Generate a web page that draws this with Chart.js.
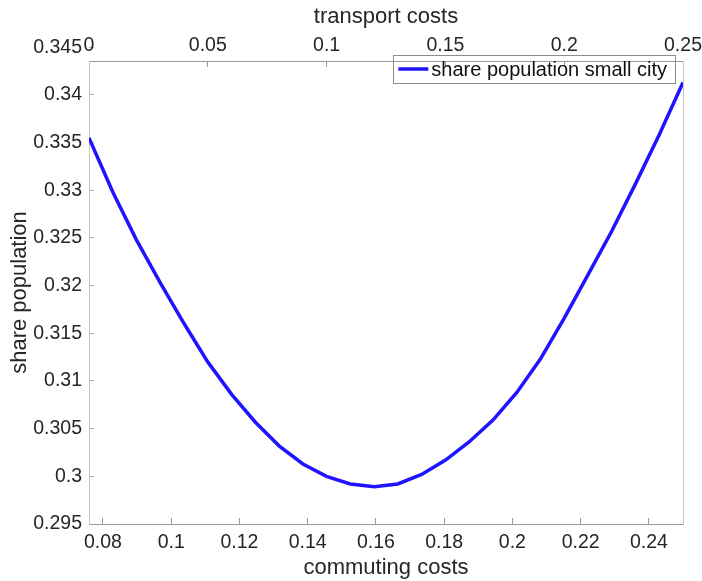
<!DOCTYPE html>
<html>
<head>
<meta charset="utf-8">
<script src="https://cdn.jsdelivr.net/npm/chart.js@4/dist/chart.umd.min.js"></script>
<style>
  html, body { margin: 0; padding: 0; background: #fff; }
  #wrap { width: 702px; height: 581px; }
</style>
</head>
<body>
<div id="wrap"><canvas id="myChart" width="702" height="581"></canvas></div>
<script>
// data
var commutingCosts = [0.0759, 0.0829, 0.0898, 0.0968, 0.1038, 0.1107, 0.1177, 0.1246, 0.1316, 0.1386,
                      0.1455, 0.1525, 0.1595, 0.1664, 0.1734, 0.1804, 0.1873, 0.1943, 0.2013, 0.2082,
                      0.2152, 0.2221, 0.2291, 0.2361, 0.2430, 0.2500];
var sharePopulation = [0.3355, 0.3298, 0.3248, 0.3203, 0.3160, 0.3120, 0.3086, 0.3057, 0.3032, 0.3013,
                       0.3000, 0.2992, 0.2989, 0.2992, 0.3002, 0.3017, 0.3036, 0.3059, 0.3088, 0.3123,
                       0.3166, 0.3211, 0.3257, 0.3307, 0.3358, 0.3413];
var xTicks = [0.08, 0.1, 0.12, 0.14, 0.16, 0.18, 0.2, 0.22, 0.24];
var x2Ticks = [0, 0.05, 0.1, 0.15, 0.2, 0.25];
var yTicks = [0.295, 0.3, 0.305, 0.31, 0.315, 0.32, 0.325, 0.33, 0.335, 0.34, 0.345];

var FONT = '"Liberation Sans", Arial, Helvetica, sans-serif';
var tickFont = { family: FONT, size: 19.5 };
var titleFont = { family: FONT, size: 22 };
var txt = '#262626';

function fmt(v) { return String(+Number(v).toFixed(3)); }
function setTicks(list) {
    return function (scale) { scale.ticks = list.map(function (v) { return { value: v }; }); };
}
function fixSize(w, h) {
    return function (scale) {
        if (w !== null) scale.width = w;
        if (h !== null) scale.height = h;
        scale.paddingLeft = 0; scale.paddingRight = 0;
        scale.paddingTop = 0; scale.paddingBottom = 0;
    };
}

var legendBox = {
    id: 'legendBox',
    afterDraw: function (chart) {
        var ds = chart.data.datasets[0];
        var ctx = chart.ctx;
        var a = chart.chartArea;
        ctx.save();
        ctx.font = '20px ' + FONT;
        var tw = ctx.measureText(ds.label).width;
        var w = tw + 46, h = 28;
        var left = a.right - 8 - w, top = a.top - 6;
        ctx.strokeStyle = '#8c8c8c';
        ctx.lineWidth = 1;
        ctx.strokeRect(Math.round(left) + 0.5, Math.round(top) + 0.5, Math.round(w), h);
        ctx.strokeStyle = ds.borderColor;
        ctx.lineWidth = ds.borderWidth;
        ctx.beginPath();
        ctx.moveTo(left + 5, top + 14);
        ctx.lineTo(left + 35, top + 14);
        ctx.stroke();
        ctx.fillStyle = '#111';
        ctx.textBaseline = 'middle';
        ctx.fillText(ds.label, left + 38, top + 15);
        ctx.restore();
    }
};

var ctx = document.getElementById('myChart').getContext('2d');
var myChart = new Chart(ctx, {
    type: 'line',
    data: {
        datasets: [{
            label: 'share population small city',
            data: commutingCosts.map(function (c, i) { return { x: c, y: sharePopulation[i] }; }),
            borderColor: 'rgb(30,20,255)',
            borderWidth: 3.5,
            pointRadius: 0,
            tension: 0,
            fill: false,
            xAxisID: 'x',
            yAxisID: 'y'
        }]
    },
    options: {
        responsive: false,
        animation: false,
        layout: { padding: { left: 0, right: 19, top: 0, bottom: 0 } },
        plugins: { legend: { display: false }, tooltip: { enabled: false } },
        scales: {
            x: {
                type: 'linear', position: 'bottom', min: 0.0759, max: 0.25,
                afterBuildTicks: setTicks(xTicks),
                afterFit: fixSize(null, 57),
                grid: { drawOnChartArea: false, tickLength: -6, color: '#999' },
                border: { color: '#999', width: 1 },
                ticks: { font: tickFont, color: txt, padding: 13, autoSkip: false, maxRotation: 0, callback: fmt },
                title: { display: true, text: 'commuting costs', font: titleFont, color: txt, padding: { top: 0, bottom: 0 } }
            },
            x2: {
                type: 'linear', position: 'top', min: 0, max: 0.25,
                afterBuildTicks: setTicks(x2Ticks),
                afterFit: fixSize(null, 61),
                grid: { drawOnChartArea: false, tickLength: -6, color: '#999' },
                border: { color: '#999', width: 1 },
                ticks: { font: tickFont, color: txt, padding: 10, autoSkip: false, maxRotation: 0, callback: fmt },
                title: { display: true, text: 'transport costs', font: titleFont, color: txt, padding: { top: 4, bottom: 0 } }
            },
            y: {
                type: 'linear', position: 'left', min: 0.295, max: 0.34356,
                afterBuildTicks: setTicks(yTicks),
                afterFit: fixSize(89, null),
                grid: { drawOnChartArea: false, tickLength: -5, color: '#b0b0b0' },
                border: { color: '#c8c8c8', width: 1 },
                ticks: { font: tickFont, color: txt, padding: 12, autoSkip: false, callback: fmt },
                title: { display: true, text: 'share population', font: titleFont, color: txt, padding: { top: 7, bottom: 0 } }
            },
            y2: {
                type: 'linear', position: 'right', min: 0.295, max: 0.34356,
                afterFit: fixSize(0, null),
                grid: { display: false },
                border: { color: '#c8c8c8', width: 1 },
                ticks: { display: false }
            }
        }
    },
    plugins: [legendBox]
});
</script>
</body>
</html>
